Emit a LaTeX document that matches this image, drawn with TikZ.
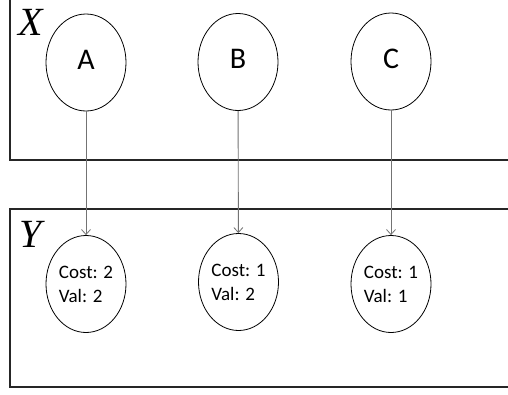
\documentclass[tikz,border=0pt]{standalone}
\usepackage{fontspec}
\setmainfont{Carlito}
\newfontfamily\labfont{Liberation Serif}
\usetikzlibrary{shapes.geometric,arrows.meta}
\tikzset{
  frame/.style={draw=black!85, line width=2pt},
  ell/.style={ellipse, draw, line width=0.8pt, minimum width=80pt, minimum height=97pt, inner sep=0pt},
  big/.style={font=\fontsize{30}{30}\selectfont, text depth=6pt},
  small/.style={font=\fontsize{19}{24}\selectfont, align=left},
  boxlab/.style={font=\labfont\itshape\fontsize{40}{40}\selectfont, inner sep=0pt, anchor=base west},
  conn/.style={draw=black!55, line width=0.9pt, -{Straight Barb[length=5pt,width=9pt,line width=0.8pt]}}
}
\begin{document}
\begin{tikzpicture}[x=1pt,y=-1pt]
\clip (0,0) rectangle (508,394);
\fill[white] (0,0) rectangle (508,394);
\draw[frame] (10,-10) rectangle (530,160);
\draw[frame] (10,209) rectangle (530,387);
\node[boxlab] (lx) at (18,35) {X};
\node[boxlab] (ly) at (19,247) {Y};
\node[ell,big] (a) at (86,62.5) {A};
\node[ell,big] (b) at (238,62) {B};
\node[ell,big] (c) at (391,61.5) {C};
\node[ell,small] (a2) at (86,284) {Cost: 2\\Val: 2};
\node[ell,small] (b2) at (238.5,282) {Cost: 1\\Val: 2};
\node[ell,small] (c2) at (391,284) {Cost: 1\\Val: 1};
\draw[conn] (a) -- (a2);
\draw[conn] (b) -- (b2);
\draw[conn] (c) -- (c2);
\end{tikzpicture}
\end{document}
